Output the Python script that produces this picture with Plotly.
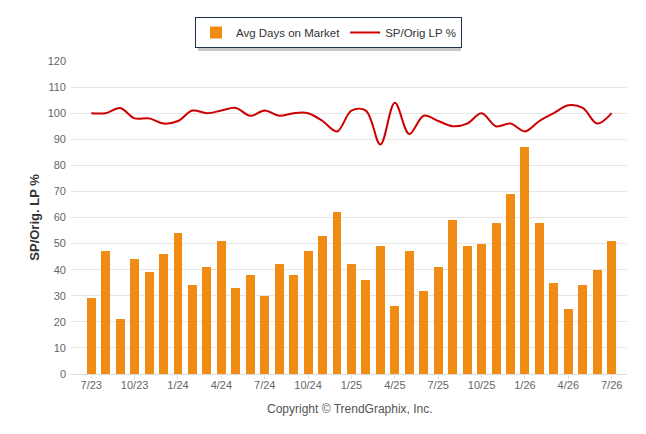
import plotly.graph_objects as go

# Monthly values, 7/23 through 7/26
months = list(range(37))
days_on_market = [29, 47, 21, 44, 39, 46, 54, 34, 41, 51, 33, 38, 30, 42, 38, 47, 53, 62, 42,
                  36, 49, 26, 47, 32, 41, 59, 49, 50, 58, 69, 87, 58, 35, 25, 34, 40, 51]
sp_orig_lp = [100, 100, 102, 98, 98, 96, 97, 101, 100, 101, 102, 99, 101, 99, 100, 100, 97, 93,
              101, 101, 88, 104, 92, 99, 97, 95, 96, 100, 95, 96, 93, 97, 100, 103, 102, 96, 100]

tick_pos = list(range(0, 37, 3))
tick_labels = ['7/23', '10/23', '1/24', '4/24', '7/24', '10/24', '1/25',
               '4/25', '7/25', '10/25', '1/26', '4/26', '7/26']

FONT = 'Liberation Sans'

fig = go.Figure()

fig.add_trace(go.Bar(
    x=months, y=days_on_market, name='Avg Days on Market',
    marker=dict(color='#F08C14', line=dict(width=0)),
    width=0.62,
))
fig.add_trace(go.Scatter(
    x=months, y=sp_orig_lp, name='SP/Orig LP %', mode='lines',
    line=dict(color='#CC0000', width=2, shape='spline', smoothing=1.0),
))

# fake legend shadow
fig.add_shape(type='rect', xref='paper', yref='paper',
              x0=(198 - 71) / 556, x1=(461 - 71) / 556,
              y0=(374 - 51) / 313, y1=(374 - 20) / 313,
              fillcolor='rgba(0,0,0,0.22)', line=dict(width=0), layer='below')

fig.add_annotation(text='Copyright © TrendGraphix, Inc.', xref='paper', yref='paper',
                   x=(350 - 71) / 556, y=(374 - 409) / 313, showarrow=False,
                   xanchor='center', yanchor='middle',
                   font=dict(family=FONT, size=12, color='#555555'))

fig.update_layout(
    width=646, height=434,
    margin=dict(l=71, r=19, t=61, b=60),
    plot_bgcolor='white', paper_bgcolor='white',
    font=dict(family=FONT, size=11, color='#666666'),
    bargap=0,
    showlegend=True,
    legend=dict(orientation='h', x=(195 - 71) / 556, y=(374 - 17) / 313,
                xanchor='left', yanchor='top',
                bgcolor='white', bordercolor='#1F2F4F', borderwidth=1,
                font=dict(family=FONT, size=11.5, color='#333333'),
                itemwidth=30, entrywidth=0),
    xaxis=dict(range=[-1.4, 37.06], tickmode='array', tickvals=tick_pos, ticktext=tick_labels,
               showgrid=False, zeroline=False, showline=True, linecolor='#D8DEE8', linewidth=1,
               ticks='outside', ticklen=4, tickcolor='#D8DEE8', ticklabelstandoff=-3,
               tickfont=dict(family=FONT, size=11, color='#666666')),
    yaxis=dict(range=[0, 120], dtick=10, showgrid=True, gridcolor='#E6E6E6', gridwidth=1,
               zeroline=False, showline=False, ticks='', ticklabelstandoff=4,
               tickfont=dict(family=FONT, size=11, color='#666666'),
               title=dict(text='SP/Orig. LP %', standoff=5,
                          font=dict(family=FONT, size=13, color='#333333', weight='bold'))),
)

# drop the default page margin so the figure sits at the window's corner
fig.write_html('out.html', config={'displayModeBar': False},
               post_script="document.body.style.margin='0';")
